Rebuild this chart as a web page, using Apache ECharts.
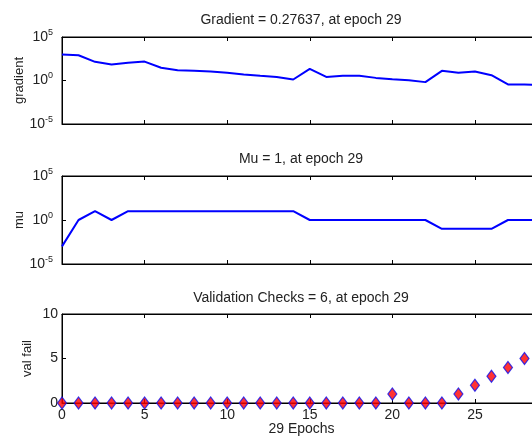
<!DOCTYPE html>
<html>
<head>
<meta charset="utf-8">
<script src="https://cdn.jsdelivr.net/npm/echarts@6/dist/echarts.min.js"></script>
<style>
  html, body { margin: 0; padding: 0; background: #fff; }
  #chart { width: 532px; height: 439px; }
</style>
</head>
<body>
<div id="chart"></div>
<script>
// data
const epochs = [0, 1, 2, 3, 4, 5, 6, 7, 8, 9, 10, 11, 12, 13, 14, 15, 16, 17, 18, 19, 20, 21, 22, 23, 24, 25, 26, 27, 28, 29];
const gradient = [1000, 790, 140, 70, 107, 150, 29, 15, 13, 10.7, 7.6, 4.9, 3.5, 2.6, 1.3, 22, 2.6, 3.5, 3.5, 2.0, 1.4, 1.1, 0.65, 13, 7.6, 10.7, 4.1, 0.35, 0.35, 0.27637];
const mu = [0.001, 1, 10, 1, 10, 10, 10, 10, 10, 10, 10, 10, 10, 10, 10, 1, 1, 1, 1, 1, 1, 1, 1, 0.1, 0.1, 0.1, 0.1, 1, 1, 1];
const valFail = [0, 0, 0, 0, 0, 0, 0, 0, 0, 0, 0, 0, 0, 0, 0, 0, 0, 0, 0, 0, 1, 0, 0, 0, 1, 2, 3, 4, 5, 6];
const titles = ['Gradient = 0.27637, at epoch 29', 'Mu = 1, at epoch 29', 'Validation Checks = 6, at epoch 29'];
const yNames = ['gradient', 'mu', 'val fail'];
const xName = '29 Epochs';

const FONT = 'Liberation Sans';
const TXT = '#222';

const pairs = (vals) => vals.map((v, i) => [epochs[i], v]);

// the plot runs past the right edge of the picture (epoch 29 is cut off)
const grids = [
  { left: 62, width: 479, top: 37, height: 87 },
  { left: 62, width: 479, top: 176, height: 88 },
  { left: 62, width: 479, top: 314, height: 89 }
];

const logLabel = {
  fontFamily: FONT, fontSize: 14, color: TXT, margin: 9,
  formatter: (v) => '{b|10}{s|' + Math.round(Math.log10(v)) + '}',
  rich: {
    b: { fontFamily: FONT, fontSize: 14, color: TXT, lineHeight: 18 },
    s: { fontFamily: FONT, fontSize: 9, color: TXT, lineHeight: 18, verticalAlign: 'top' }
  }
};

const xAxes = [];
const yAxes = [];
grids.forEach((g, i) => {
  xAxes.push({
    type: 'value', gridIndex: i, min: 0, max: 29, interval: 5, position: 'bottom',
    axisLine: { lineStyle: { color: '#000' } },
    axisTick: { inside: true, length: 4, lineStyle: { color: '#000' } },
    splitLine: { show: false },
    axisLabel: i === 2
      ? { fontFamily: FONT, fontSize: 14, color: TXT, margin: 5, showMaxLabel: false }
      : { show: false },
    name: i === 2 ? xName : '',
    nameLocation: 'middle', nameGap: 19, nameMoveOverlap: false,
    nameTextStyle: { fontFamily: FONT, fontSize: 14, color: TXT }
  });
  xAxes.push({
    type: 'value', gridIndex: i, min: 0, max: 29, interval: 5, position: 'top',
    axisLine: { lineStyle: { color: '#000' } },
    axisTick: { inside: true, length: 4, lineStyle: { color: '#000' } },
    splitLine: { show: false },
    axisLabel: { show: false }
  });
  const base = {
    gridIndex: i,
    name: yNames[i], nameLocation: 'middle', nameMoveOverlap: false,
    nameTextStyle: { fontFamily: FONT, fontSize: 13, color: TXT },
    axisLine: { show: true, lineStyle: { color: '#000' } },
    axisTick: { show: true, inside: true, length: 4, lineStyle: { color: '#000' } },
    splitLine: { show: false }
  };
  if (i < 2) {
    yAxes.push(Object.assign(base, {
      type: 'log', logBase: 10, min: 1e-5, max: 1e5, interval: 5,
      nameGap: 36, axisLabel: logLabel
    }));
  } else {
    yAxes.push(Object.assign(base, {
      type: 'value', min: 0, max: 10, interval: 5,
      nameGap: 28,
      axisLabel: { fontFamily: FONT, fontSize: 14, color: TXT, margin: 4 }
    }));
  }
});

const chart = echarts.init(document.getElementById('chart'), null, { renderer: 'canvas' });
chart.setOption({
  backgroundColor: '#fff',
  animation: false,
  graphic: titles.map((t, i) => ({
    type: 'text', x: 301, y: [20, 159, 298][i],
    style: { text: t, font: '14px "' + FONT + '"', fill: TXT, align: 'center', verticalAlign: 'middle' }
  })),
  grid: grids.map(g => Object.assign({
    show: true, borderColor: '#000', borderWidth: 1, backgroundColor: '#fff',
    containLabel: false, outerBoundsMode: 'none'
  }, g)),
  xAxis: xAxes,
  yAxis: yAxes,
  series: [
    {
      type: 'line', xAxisIndex: 0, yAxisIndex: 0, data: pairs(gradient),
      showSymbol: false, lineStyle: { color: '#0000ff', width: 2 }
    },
    {
      type: 'line', xAxisIndex: 2, yAxisIndex: 1, data: pairs(mu),
      showSymbol: false, lineStyle: { color: '#0000ff', width: 2 }
    },
    {
      type: 'scatter', xAxisIndex: 4, yAxisIndex: 2, data: pairs(valFail),
      symbol: 'diamond', symbolSize: [9, 12], clip: false,
      itemStyle: { color: '#ff0000', borderColor: '#1010ee', borderWidth: 1.2 }
    }
  ]
});
</script>
</body>
</html>
